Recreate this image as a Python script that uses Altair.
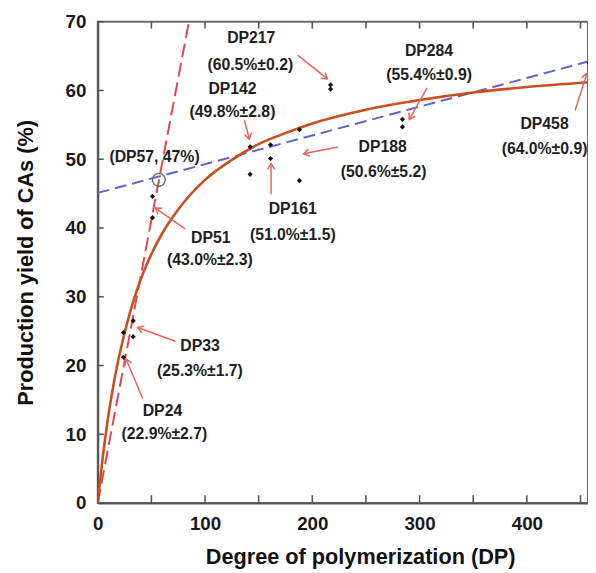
import math
import altair as alt
import pandas as pd

# ---- data ----
pt_dp = [24, 24, 33, 33, 51, 51, 142, 142, 161, 161, 188, 188, 217, 217, 284, 284, 458]
pt_yield = [24.8, 21.2, 26.5, 24.2, 44.6, 41.5, 51.8, 47.8, 52.1, 50.1, 54.3, 46.9, 60.2, 60.8, 55.8, 54.7, 64.0]

curve_dp = [0, 5, 10, 15, 20, 30, 40, 50, 60, 75, 100, 125, 150, 175, 200, 250, 300, 350, 400, 457]
curve_yield = [0, 7.1, 12.8, 17.5, 21.4, 27.7, 32.5, 36.2, 39.2, 42.7, 47.0, 49.9, 52.2, 53.8, 55.2, 57.2, 58.6, 59.7, 60.5, 61.2]

red_dp = [0, 85]
red_yield = [0, 70]

blue_dp = [0, 457]
blue_yield = [45.1, 64.2]

circle_dp = [57]
circle_yield = [47]

label_text = ["DP217", "(60.5%±0.2)", "DP142", "(49.8%±2.8)", "DP284", "(55.4%±0.9)",
              "DP188", "(50.6%±5.2)", "DP161", "(51.0%±1.5)", "DP51", "(43.0%±2.3)",
              "DP33", "(25.3%±1.7)", "DP24", "(22.9%±2.7)", "DP458", "(64.0%±0.9)",
              "(DP57, 47%)"]
label_dp = [143.1, 142.2, 125.6, 125.6, 308.8, 308.8, 265.6, 266.5, 181.8, 181.8,
            105.4, 104.5, 95.3, 95.3, 60.3, 62.1, 416.5, 416.5, 52.9]
label_yield = [67.57, 63.69, 60.25, 56.81, 65.70, 62.26, 51.79, 48.20, 42.75, 39.02,
               38.59, 35.29, 22.81, 19.22, 13.34, 10.04, 55.09, 51.50, 50.35]

arrow_tail_dp = [186.4, 136.7, 307.0, 224.1, 161.6, 81.5, 72.3, 41.9, 445.0]
arrow_tail_yield = [65.13, 55.66, 60.39, 51.79, 44.90, 39.88, 23.52, 15.21, 57.08]
arrow_head_dp = [214.0, 141.3, 290.4, 191.9, 161.6, 53.8, 37.3, 26.3, 456.1]
arrow_head_yield = [61.68, 52.93, 55.80, 50.79, 49.35, 42.90, 25.53, 20.94, 62.53]

x_major = [0, 100, 200, 300, 400]
x_ticks = [0, 50, 100, 150, 200, 250, 300, 350, 400, 450]
y_ticks = [0, 10, 20, 30, 40, 50, 60, 70]

# ---- layout ----
W, H = 497, 488
XMAX, YMAX = 457, 70
FONT = "Liberation Sans"

xs = alt.Scale(domain=[0, XMAX], nice=False, zero=False)
ys = alt.Scale(domain=[0, YMAX], nice=False, zero=False)

xaxis = alt.Axis(values=x_major, title="Degree of polymerization (DP)", grid=False,
                 ticks=False, tickSize=0, labelPadding=12, labelFontSize=19,
                 labelFont=FONT, labelFontWeight="bold", labelColor="#1a1a1a",
                 titleFont=FONT, titleFontSize=22, titleFontWeight="bold", titleColor="#111",
                 titleX=266, titleY=61, titleBaseline="alphabetic", titleAlign="center",
                 domainColor="#555", domainWidth=2, labelFlush=False)
yaxis = alt.Axis(values=y_ticks, title="Production yield of CAs (%)", grid=False,
                 ticks=False, tickSize=0, labelPadding=12, labelFontSize=19,
                 labelFont=FONT, labelFontWeight="bold", labelColor="#1a1a1a",
                 titleFont=FONT, titleFontSize=22, titleFontWeight="bold", titleColor="#111",
                 titleX=-66, titleY=244, titleBaseline="alphabetic", titleAlign="center",
                 titleAngle=270, domainColor="#555", domainWidth=2, labelFlush=False)


def X(field):
    return alt.X(field, type="quantitative", scale=xs, axis=xaxis)


def Y(field):
    return alt.Y(field, type="quantitative", scale=ys, axis=yaxis)


pts = pd.DataFrame({"x": pt_dp, "y": pt_yield})
curve = pd.DataFrame({"x": curve_dp, "y": curve_yield})
red = pd.DataFrame({"x": red_dp, "y": red_yield})
blue = pd.DataFrame({"x": blue_dp, "y": blue_yield})
circ = pd.DataFrame({"x": circle_dp, "y": circle_yield})
labels = pd.DataFrame({"x": label_dp, "y": label_yield, "t": label_text})

kx, ky = W / XMAX, H / YMAX
angles = []
for tx, ty, hx, hy in zip(arrow_tail_dp, arrow_tail_yield, arrow_head_dp, arrow_head_yield):
    dx = (hx - tx) * kx
    dy = -(hy - ty) * ky
    angles.append(math.degrees(math.atan2(dy, dx)) % 360)
arrows = pd.DataFrame({"x": arrow_tail_dp, "y": arrow_tail_yield,
                       "x2": arrow_head_dp, "y2": arrow_head_yield, "ang": angles})

xt = pd.DataFrame({"x": x_ticks})
yt = pd.DataFrame({"y": y_ticks})

tick_color = "#555"
bottom_ticks = alt.Chart(xt).mark_rule(color=tick_color, strokeWidth=1.6).encode(
    x=X("x"), y=alt.value(H), y2=alt.value(H - 8))
top_ticks = alt.Chart(xt).mark_rule(color=tick_color, strokeWidth=1.6).encode(
    x=X("x"), y=alt.value(0), y2=alt.value(7))
left_ticks = alt.Chart(yt).mark_rule(color=tick_color, strokeWidth=1.6).encode(
    y=Y("y"), x=alt.value(0), x2=alt.value(6))

blue_line = alt.Chart(blue).mark_line(color="#6262c8", strokeWidth=2, strokeDash=[12, 6],
                                      clip=True).encode(x=X("x"), y=Y("y"))
red_line = alt.Chart(red).mark_line(color="#e4434f", strokeWidth=2, strokeDash=[14, 6],
                                    clip=True).encode(x=X("x"), y=Y("y"))
orange = alt.Chart(curve).mark_line(color="#cc4e1c", strokeWidth=2.6, interpolate="monotone",
                                    clip=True).encode(x=X("x"), y=Y("y"))
points = alt.Chart(pts).mark_point(shape="diamond", filled=True, color="#111", size=28,
                                   opacity=1, clip=True).encode(x=X("x"), y=Y("y"))
circle = alt.Chart(circ).mark_point(shape="circle", filled=False, color="#6a6a6a", size=170,
                                    strokeWidth=1.4, opacity=1).encode(x=X("x"), y=Y("y"))
arrow_lines = alt.Chart(arrows).mark_rule(color="#e8625f", strokeWidth=1.5, clip=True).encode(
    x=X("x"), y=Y("y"), x2="x2:Q", y2="y2:Q")
arrow_heads = alt.Chart(arrows).mark_point(shape="M -1 -0.65 L 0 0 L -1 0.65", filled=False,
                                           color="#e8625f", size=130, strokeWidth=1.5,
                                           opacity=1, clip=True).encode(
    x=X("x2"), y=Y("y2"), angle=alt.Angle("ang:Q", scale=None))
texts = alt.Chart(labels).mark_text(font=FONT, fontSize=16, fontWeight="bold", color="#1e1e1e",
                                    align="center", baseline="middle").encode(
    x=X("x"), y=Y("y"), text="t:N")

chart = alt.layer(
    bottom_ticks, top_ticks, left_ticks, blue_line, red_line, orange, points, circle,
    arrow_lines, arrow_heads, texts
).properties(
    width=W, height=H,
    autosize=alt.AutoSizeParams(type="none"),
    padding={"left": 91, "top": 10, "right": 0, "bottom": 65},
    background="white",
).configure_view(stroke="#6a6a6a", strokeWidth=2)

chart.save("out.html", embed_options={"renderer": "svg", "actions": False})
